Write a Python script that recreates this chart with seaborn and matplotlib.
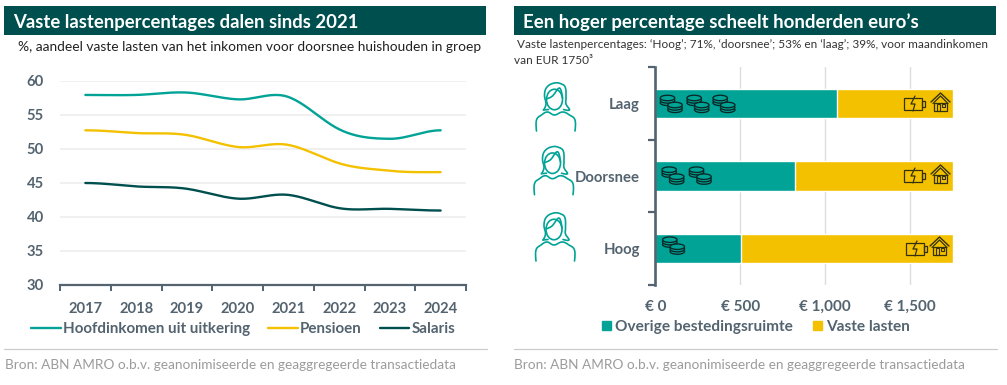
import numpy as np
import pandas as pd
import seaborn as sns
import matplotlib.pyplot as plt
from matplotlib.lines import Line2D
from matplotlib.patches import Ellipse, Polygon, Rectangle

YEARS = [2017, 2018, 2019, 2020, 2021, 2022, 2023, 2024]
UITKERING = [57.95, 57.95, 58.3, 57.3, 57.65, 52.9, 51.5, 52.75]
PENSIOEN = [52.75, 52.35, 52.05, 50.3, 50.6, 47.9, 46.8, 46.6]
SALARIS = [45.0, 44.5, 44.15, 42.7, 43.25, 41.3, 41.2, 40.95]
LINE_NAMES = ["Hoofdinkomen uit uitkering", "Pensioen", "Salaris"]

GROUPS = ["Laag", "Doorsnee", "Hoog"]
OVERIG = [1067.5, 822.5, 507.5]
VASTE_LASTEN = [682.5, 927.5, 1242.5]
COIN_COUNTS = [3, 2, 1]
BAR_NAMES = ["Overige bestedingsruimte", "Vaste lasten"]

TEAL = "#00a396"
YELLOW = "#f4c100"
DARK = "#004f4f"
GREY = "#53636f"
W, H = 1007, 385

sns.set_theme(style="white")
plt.rcParams["font.family"] = ["Lato", "DejaVu Sans"]

fig = plt.figure(figsize=(W / 100, H / 100), dpi=100, facecolor="white")


def px_axes(x0, y0, x1, y1):
    return fig.add_axes([x0 / W, 1 - y1 / H, (x1 - x0) / W, (y1 - y0) / H])


def smooth(x, y, steps=24):
    # spline look of the original, runs through every data point
    x, y = np.asarray(x, float), np.asarray(y, float)
    m = np.zeros(len(y))
    m[1:-1] = (y[2:] - y[:-2]) / 2
    xs, ys = [], []
    for i in range(len(x) - 1):
        t = np.linspace(0, 1, steps)
        p0, p1 = y[i], y[i] + 0.4 * m[i]
        p2, p3 = y[i + 1] - 0.4 * m[i + 1], y[i + 1]
        xs.append(x[i] + t * (x[i + 1] - x[i]))
        ys.append((1 - t) ** 3 * p0 + 3 * (1 - t) ** 2 * t * p1 + 3 * (1 - t) * t ** 2 * p2 + t ** 3 * p3)
    return np.concatenate(xs), np.concatenate(ys)


# ---------------------------------------------------------
# LINE CHART
# ---------------------------------------------------------

df_lines = pd.DataFrame({
    "Jaar": YEARS * 3,
    "Groep": np.repeat(LINE_NAMES, len(YEARS)),
    "Percentage": UITKERING + PENSIOEN + SALARIS,
})

ax1 = px_axes(60, 81, 466, 285)
sns.lineplot(data=df_lines, x="Jaar", y="Percentage", hue="Groep", hue_order=LINE_NAMES,
             palette=[TEAL, YELLOW, DARK], errorbar=None, linewidth=1.7, legend=False, ax=ax1)
for line in ax1.lines:
    line.set_data(*smooth(*line.get_data()))
    line.set_solid_capstyle("round")

ax1.set_xlim(2016.5, 2024.5)
ax1.set_ylim(30, 60)
ax1.set_xlabel("")
ax1.set_ylabel("")
ax1.set_yticks([30, 35, 40, 45, 50, 55, 60])
ax1.set_xticks(np.arange(2016.5, 2025))
ax1.set_xticklabels([])
ax1.set_xticks(YEARS, [str(y) for y in YEARS], minor=True)
ax1.grid(axis="y", color="#eeeeee", linewidth=1.2)
ax1.set_axisbelow(True)
ax1.tick_params(axis="y", length=0, pad=11.5, labelsize=10.6, labelcolor=GREY)
ax1.tick_params(axis="x", which="major", length=4, width=1.4, color=GREY, bottom=True)
ax1.tick_params(axis="x", which="minor", length=0, pad=12.5, labelsize=10.6, labelcolor=GREY)
for lab in ax1.get_yticklabels() + ax1.get_xticklabels(minor=True):
    lab.set_fontweight("bold")
sns.despine(ax=ax1, left=True)
ax1.spines["bottom"].set_color(GREY)
ax1.spines["bottom"].set_linewidth(1.6)
ax1.spines["bottom"].set_zorder(5)
for s in ax1.get_ygridlines()[:1]:
    s.set_visible(False)

ax1.legend(ax1.lines, LINE_NAMES, ncol=3, frameon=False, loc="center left",
           bbox_to_anchor=((31 - 60) / 406, (285 - 329) / 204), borderaxespad=0, borderpad=0,
           handlelength=1.95, handletextpad=0.15, columnspacing=1.2,
           prop={"size": 10.9, "weight": "bold"}, labelcolor=GREY)

# ---------------------------------------------------------
# STACKED BARS
# ---------------------------------------------------------

df_bars = pd.DataFrame({"Groep": GROUPS, "Overig": OVERIG, "Vast": VASTE_LASTEN})
df_bars["Totaal"] = df_bars["Overig"] + df_bars["Vast"]

ax2 = px_axes(655.3, 67, 952.5, 285)
sns.barplot(data=df_bars, y="Groep", x="Totaal", color=YELLOW, saturation=1, width=0.4, orient="h", ax=ax2)
sns.barplot(data=df_bars, y="Groep", x="Overig", color=TEAL, saturation=1, width=0.4, orient="h", ax=ax2)
ax2.set_xlim(0, 1750)
ax2.set_ylim(2.5, -0.5)
ax2.set_xlabel("")
ax2.set_ylabel("")
ax2.set_xticks([0, 500, 1000, 1500], ["€ 0", "€ 500", "€ 1,000", "€ 1,500"])
ax2.set_yticks([-0.5, 0.5, 1.5, 2.5])
ax2.set_yticklabels([])
ax2.set_yticks([0, 1, 2], GROUPS, minor=True)
ax2.grid(axis="x", color="#dddddd", linewidth=1.0)
ax2.grid(axis="y", visible=False)
ax2.set_axisbelow(True)
ax2.tick_params(axis="x", length=0, pad=11, labelsize=11.0, labelcolor=GREY)
ax2.tick_params(axis="y", which="major", length=5, width=1.6, color=GREY, left=True)
ax2.tick_params(axis="y", which="minor", length=0, pad=11, labelsize=10.7, labelcolor=GREY)
for lab in ax2.get_xticklabels() + ax2.get_yticklabels(minor=True):
    lab.set_fontweight("bold")
sns.despine(ax=ax2, bottom=True)
ax2.spines["left"].set_color(GREY)
ax2.spines["left"].set_linewidth(1.9)

handles = [Rectangle((0, 0), 1, 1, color=TEAL), Rectangle((0, 0), 1, 1, color=YELLOW)]
ax2.legend(handles, BAR_NAMES, ncol=2, frameon=False, loc="center left",
           bbox_to_anchor=((602 - 655.3) / 297.2, (285 - 327) / 218), borderaxespad=0, borderpad=0,
           handlelength=0.58, handleheight=0.58, handletextpad=0.28, columnspacing=1.3,
           prop={"size": 11.05, "weight": "bold"}, labelcolor=GREY)

# ---------------------------------------------------------
# OVERLAY: HEADERS, TEXT, ICONS (in pixels of the figure)
# ---------------------------------------------------------

ov = fig.add_axes([0, 0, 1, 1], zorder=10)
ov.set_xlim(0, W)
ov.set_ylim(H, 0)
ov.axis("off")
ov.patch.set_alpha(0)

for x0, x1 in [(4, 486), (514, 996)]:
    ov.add_patch(Rectangle((x0, 6), x1 - x0, 29, color=DARK, lw=0))
    ov.add_line(Line2D([x0, x1 + 1], [348.5, 348.5], color="#cccccc", lw=0.9))

ov.text(13, 22.5, "Vaste lastenpercentages dalen sinds 2021", color="white", fontsize=13.35, fontweight="bold", va="center")
ov.text(523, 22.5, "Een hoger percentage scheelt honderden euro’s", color="white", fontsize=13.4, fontweight="bold", va="center")
ov.text(18.5, 47, "%, aandeel vaste lasten van het inkomen voor doorsnee huishouden in groep", color="#222222", fontsize=9.95, va="center")
ov.text(517, 44.5, "Vaste lastenpercentages: ‘Hoog’; 71%, ‘doorsnee’; 53% en ‘laag’; 39%, voor maandinkomen", color="#333333", fontsize=8.5, va="center")
ov.text(514, 60, "van EUR 1750³", color="#333333", fontsize=8.5, va="center")
for x in [5, 514]:
    ov.text(x, 365, "Bron: ABN AMRO o.b.v. geanonimiseerde en geaggregeerde transactiedata", color="#9b9b9b", fontsize=9.85, va="center")


def outline(cx, top, pts):
    t = np.arange(len(pts))
    xs = smooth(t, [cx + p[0] for p in pts], 8)[1]
    ys = smooth(t, [top + p[1] for p in pts], 8)[1]
    ov.plot(xs, ys, color=TEAL, lw=1.2, solid_joinstyle="round")


def person(cx, top):
    outline(cx, top, [(-12, 27), (-9.5, 21), (-11, 12), (-8.5, 4), (-1, 0), (6, 1), (10, 5), (10.5, 15), (10.5, 21), (14, 27), (8, 26.5)])
    outline(cx, top, [(-12, 27), (-7, 26.5)])
    outline(cx, top, [(-8.8, 15.7), (-3, 13), (4, 5), (7, 15)])
    ov.add_patch(Ellipse((cx - 1, top + 16.5), 16, 20.5, fill=False, ec=TEAL, lw=1.2))
    outline(cx, top, [(-19, 48), (-19, 37), (-14, 32), (-8, 29), (-1, 32), (7, 29), (14, 32), (19.5, 37), (19.5, 48)])


def coins(x, y):
    for cx0, cy0 in [(7.5, 3), (15, 10)]:
        for k in [2, 1, 0]:
            ov.add_patch(Ellipse((x + cx0, y + cy0 + k * 2.4), 14.5, 5.5, fc=TEAL, ec="#0a2826", lw=0.95))


def battery(x, y):
    ink = "#33310f"
    ov.add_patch(Rectangle((x, y + 1), 18, 12, fill=False, ec=ink, lw=0.9))
    ov.add_patch(Rectangle((x + 18, y + 4), 3, 6, fill=False, ec=ink, lw=0.9))
    ov.plot([x + 11, x + 7, x + 11, x + 9], [y - 1, y + 7, y + 7, y + 14], color=ink, lw=0.9)


def house(x, y):
    ink = "#33310f"
    ov.plot([x, x + 9.5, x + 19], [y + 9, y, y + 9], color=ink, lw=1.0)
    ov.plot([x + 2, x + 9.5, x + 17], [y + 10.5, y + 3, y + 10.5], color=ink, lw=0.9)
    ov.add_patch(Polygon([(x + 3, y + 10), (x + 3, y + 18), (x + 16, y + 18), (x + 16, y + 10)], fill=False, ec=ink, lw=0.9))
    ov.add_patch(Rectangle((x + 5.5, y + 11), 3, 7, fill=False, ec=ink, lw=0.8))
    ov.add_patch(Rectangle((x + 11, y + 11), 3, 3, fill=False, ec=ink, lw=0.8))


for cx, top in [(555.5, 83), (553.5, 146.7), (555, 213)]:
    person(cx, top)

coin_spots = [[660, 686.7, 712.7], [661.7, 689], [662.3]]
for spots, n, y in zip(coin_spots, COIN_COUNTS, [95, 166.7, 236.7]):
    for x in spots[:n]:
        coins(x, y)

for bx, by, hx, hy in [(904, 97, 931, 93), (904, 169, 931, 165), (906, 242, 930, 237)]:
    battery(bx, by)
    house(hx, hy)

fig.savefig("out.png", dpi=100)
